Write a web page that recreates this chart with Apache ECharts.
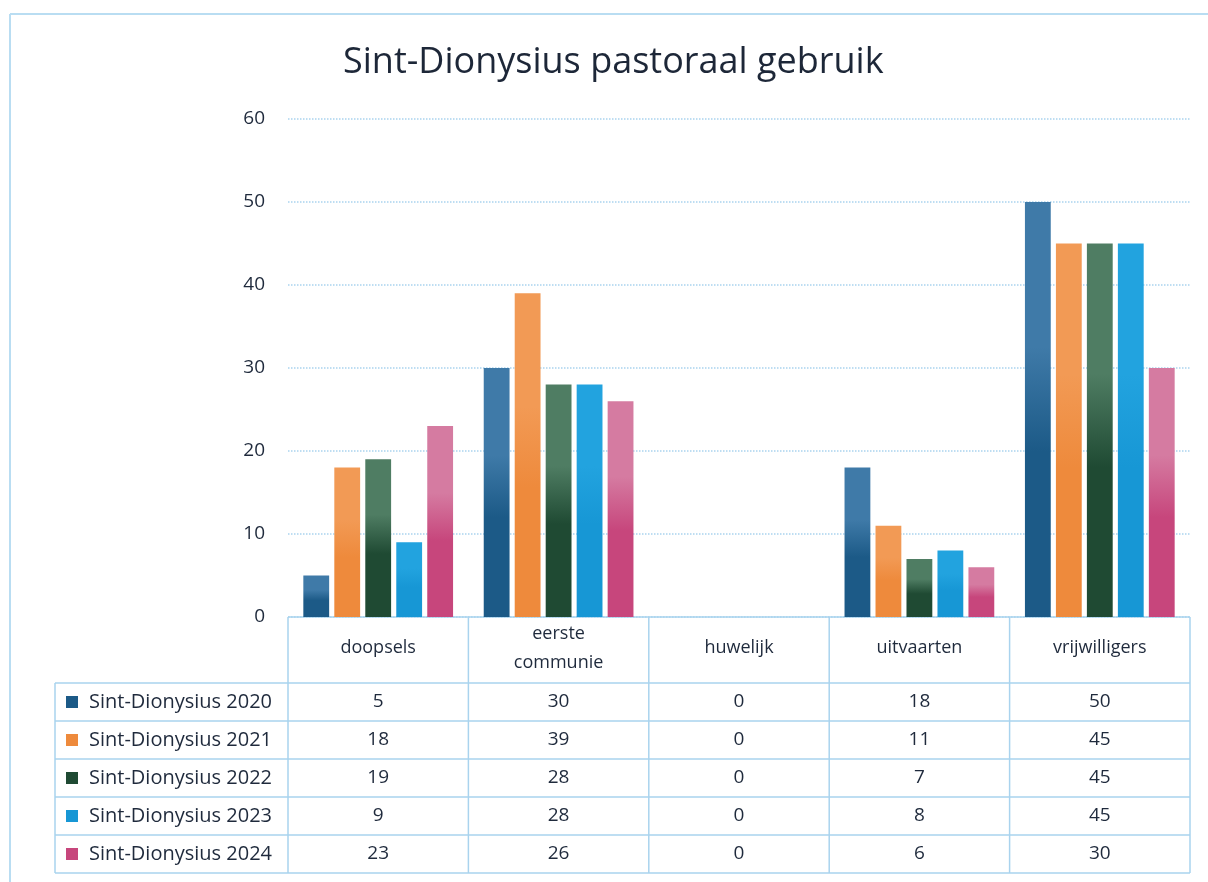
<!DOCTYPE html>
<html>
<head>
<meta charset="utf-8">
<script src="https://cdn.jsdelivr.net/npm/echarts@6/dist/echarts.min.js"></script>
<style>
  html, body { margin: 0; padding: 0; background: #fff; }
  #main { width: 1208px; height: 882px; }
</style>
</head>
<body>
<div id="main"></div>
<script>
var categories = ['doopsels', 'eerste\ncommunie', 'huwelijk', 'uitvaarten', 'vrijwilligers'];
var seriesNames = ['Sint-Dionysius 2020', 'Sint-Dionysius 2021', 'Sint-Dionysius 2022', 'Sint-Dionysius 2023', 'Sint-Dionysius 2024'];
var data2020 = [5, 30, 0, 18, 50];
var data2021 = [18, 39, 0, 11, 45];
var data2022 = [19, 28, 0, 7, 45];
var data2023 = [9, 28, 0, 8, 45];
var data2024 = [23, 26, 0, 6, 30];
var allData = [data2020, data2021, data2022, data2023, data2024];

// top colour, bottom colour per year
var colTop = ['#3f7aa8', '#f29a55', '#4f7d63', '#22a3df', '#d57ba1'];
var colBot = ['#1c5a87', '#ee8a3c', '#1f4a33', '#1797d5', '#c7467c'];

var gridLeft = 288, gridRight = 1190, gridTop = 119, gridBottom = 617;
var headerH = 66, rowH = 38, legendLeft = 55;
var lineCol = '#a9d3ee';
var textCol = '#1f2a3c';
var fontFam = '"Open Sans", "Noto Sans", sans-serif';

var chartDom = document.getElementById('main');
var myChart = echarts.init(chartDom);

var series = [];
for (var i = 0; i < allData.length; i++) {
  series.push({
    name: seriesNames[i],
    type: 'bar',
    barGap: '20%',
    barCategoryGap: '17%',
    itemStyle: {
      color: new echarts.graphic.LinearGradient(0, 0, 0, 1, [
        { offset: 0, color: colTop[i] },
        { offset: 0.35, color: colTop[i] },
        { offset: 0.6, color: colBot[i] },
        { offset: 1, color: colBot[i] }
      ])
    },
    data: allData[i]
  });
}

var option = {
  animation: false,
  title: {
    text: 'Sint-Dionysius pastoraal gebruik',
    left: 338,
    top: 40,
    textStyle: { fontFamily: fontFam, fontSize: 36, fontWeight: 'normal', color: '#1d2738' }
  },
  grid: {
    left: gridLeft,
    right: 1208 - gridRight,
    top: gridTop,
    bottom: 882 - gridBottom
  },
  xAxis: {
    type: 'category',
    data: categories,
    axisLine: { show: false },
    axisTick: { show: false },
    axisLabel: { show: false }
  },
  yAxis: {
    type: 'value',
    min: 0,
    max: 60,
    interval: 10,
    axisLine: { show: false },
    axisTick: { show: false },
    axisLabel: { fontFamily: fontFam, fontSize: 19, color: textCol, margin: 23 },
    splitLine: { lineStyle: { color: lineCol, type: 'dotted', width: 1.5 } }
  },
  series: series
};
option && myChart.setOption(option);

// data table below the plot
var g = [];
var tableBottom = gridBottom + headerH + rowH * seriesNames.length;
// outer frame of the chart
g.push({ type: 'line', shape: { x1: 10, y1: 14, x2: 1208, y2: 14 }, style: { stroke: '#b9ddf2', lineWidth: 2 } });
g.push({ type: 'line', shape: { x1: 10, y1: 14, x2: 10, y2: 882 }, style: { stroke: '#b9ddf2', lineWidth: 2 } });
// horizontal lines
g.push({ type: 'line', shape: { x1: gridLeft, y1: gridBottom, x2: gridRight, y2: gridBottom }, style: { stroke: lineCol, lineWidth: 1.5 } });
for (var r = 0; r <= seriesNames.length; r++) {
  var yy = gridBottom + headerH + rowH * r;
  g.push({ type: 'line', shape: { x1: legendLeft, y1: yy, x2: gridRight, y2: yy }, style: { stroke: lineCol, lineWidth: 1.5 } });
}
// vertical lines
var step = (gridRight - gridLeft) / categories.length;
for (var c = 0; c <= categories.length; c++) {
  var xx = gridLeft + step * c;
  g.push({ type: 'line', shape: { x1: xx, y1: gridBottom, x2: xx, y2: tableBottom }, style: { stroke: lineCol, lineWidth: 1.5 } });
}
g.push({ type: 'line', shape: { x1: legendLeft, y1: gridBottom + headerH, x2: legendLeft, y2: tableBottom }, style: { stroke: lineCol, lineWidth: 1.5 } });
// header labels
for (var c = 0; c < categories.length; c++) {
  var cx = myChart.convertToPixel({ xAxisIndex: 0 }, c);
  g.push({
    type: 'text',
    x: cx, y: gridBottom + headerH / 2 - 2,
    style: { text: categories[c], fill: textCol, font: '18px ' + fontFam, align: 'center', verticalAlign: 'middle', lineHeight: 29 }
  });
}
// rows
for (var r = 0; r < seriesNames.length; r++) {
  var cy = gridBottom + headerH + rowH * r + rowH / 2;
  g.push({ type: 'rect', shape: { x: 66, y: cy - 6, width: 12, height: 12 }, style: { fill: colBot[r] } });
  g.push({
    type: 'text', x: 89, y: cy,
    style: { text: seriesNames[r], fill: textCol, font: '20px ' + fontFam, align: 'left', verticalAlign: 'middle' }
  });
  for (var c = 0; c < categories.length; c++) {
    var cx = myChart.convertToPixel({ xAxisIndex: 0 }, c);
    g.push({
      type: 'text', x: cx, y: cy,
      style: { text: String(allData[r][c]), fill: textCol, font: '19px ' + fontFam, align: 'center', verticalAlign: 'middle' }
    });
  }
}
myChart.setOption({ graphic: g });
</script>
</body>
</html>
